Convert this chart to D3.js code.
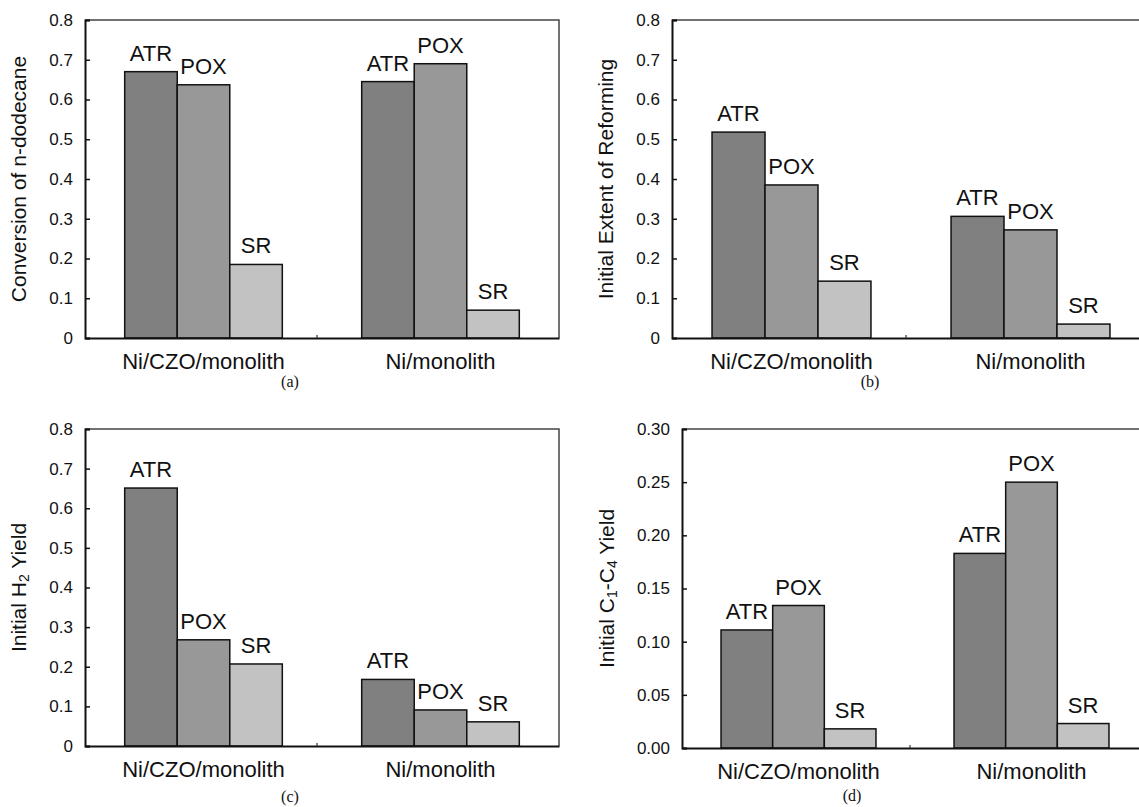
<!DOCTYPE html>
<html>
<head>
<meta charset="utf-8">
<script src="https://cdn.jsdelivr.net/npm/d3@7"></script>
<style>
  body { margin: 0; background: #fff; }
  svg { display: block; }
  text { font-family: "Liberation Sans", Arial, sans-serif; fill: #111; }
  .cap { font-family: "Liberation Serif", "Times New Roman", serif; }
</style>
</head>
<body>
<svg width="1139" height="807"></svg>
<script>
// categories and series
const groups = ["Ni/CZO/monolith", "Ni/monolith"];
const modes = ["ATR", "POX", "SR"];
const modeColors = ["#808080", "#989898", "#c2c2c2"];

// values, [group][mode]
const conversion = [[0.670, 0.637, 0.185], [0.645, 0.690, 0.070]];
const reforming = [[0.518, 0.385, 0.143], [0.306, 0.272, 0.035]];
const h2Yield = [[0.651, 0.268, 0.207], [0.168, 0.091, 0.061]];
const c1c4Yield = [[0.111, 0.134, 0.018], [0.183, 0.250, 0.023]];

// tick labels
const ticks08 = [0, 0.1, 0.2, 0.3, 0.4, 0.5, 0.6, 0.7, 0.8];
const ticks03 = [0, 0.05, 0.10, 0.15, 0.20, 0.25, 0.30];

const svg = d3.select("svg");

function drawPanel(cfg) {
  const { values, left, right, top, bottom, yMax, ticks, fmt, title, caption } = cfg;

  const x0 = d3.scaleBand()
    .domain(groups)
    .range([left, right])
    .paddingInner(0.335)
    .paddingOuter(0.1675);
  const x1 = d3.scaleBand()
    .domain(modes)
    .range([0, x0.bandwidth()]);
  const y = d3.scaleLinear().domain([0, yMax]).range([bottom, top]);

  const g = svg.append("g");

  // frame top / right
  g.append("path")
    .attr("d", `M${left},${top}H${right}V${bottom}`)
    .attr("fill", "none")
    .attr("stroke", "#444")
    .attr("stroke-width", 1.5);

  // bars
  const grp = g.selectAll(".grp")
    .data(groups)
    .enter()
    .append("g")
    .attr("transform", d => `translate(${x0(d)},0)`);

  grp.selectAll("rect")
    .data((d, i) => modes.map((m, j) => ({ mode: m, j, v: values[i][j] })))
    .enter()
    .append("rect")
    .attr("x", d => x1(d.mode))
    .attr("y", d => y(d.v))
    .attr("width", x1.bandwidth())
    .attr("height", d => y(0) - y(d.v))
    .attr("fill", d => modeColors[d.j])
    .attr("stroke", "#111")
    .attr("stroke-width", 1.5);

  grp.selectAll(".lbl")
    .data((d, i) => modes.map((m, j) => ({ mode: m, v: values[i][j] })))
    .enter()
    .append("text")
    .attr("x", d => x1(d.mode) + x1.bandwidth() / 2)
    .attr("y", d => y(d.v) - 11)
    .attr("text-anchor", "middle")
    .attr("font-size", 22)
    .text(d => d.mode);

  // y axis
  const yAxis = d3.axisLeft(y)
    .tickValues(ticks)
    .tickSize(-5)
    .tickPadding(12)
    .tickFormat(fmt);
  const ya = g.append("g")
    .attr("transform", `translate(${left},0)`)
    .call(yAxis);
  ya.select(".domain").attr("stroke", "#111").attr("stroke-width", 2);
  ya.selectAll(".tick line").attr("stroke", "#111").attr("stroke-width", 1.5);
  ya.selectAll(".tick text")
    .attr("font-size", 17)
    .attr("font-family", "Liberation Sans, Arial, sans-serif")
    .attr("fill", "#222");

  // x axis
  const xAxis = d3.axisBottom(x0).tickSize(0).tickPadding(15);
  const xa = g.append("g")
    .attr("transform", `translate(0,${bottom})`)
    .call(xAxis);
  xa.select(".domain").attr("stroke", "#111").attr("stroke-width", 2);
  xa.selectAll(".tick text")
    .attr("font-size", 22)
    .attr("font-family", "Liberation Sans, Arial, sans-serif")
    .attr("fill", "#111");

  // small divider tick between groups
  g.append("line")
    .attr("x1", (left + right) / 2 - 5)
    .attr("x2", (left + right) / 2 - 5)
    .attr("y1", bottom)
    .attr("y2", bottom - 3)
    .attr("stroke", "#333")
    .attr("stroke-width", 1.2);

  // y title
  const t = g.append("text")
    .attr("transform", `translate(${title.x},${(top + bottom) / 2}) rotate(-90)`)
    .attr("text-anchor", "middle")
    .attr("dy", "0.35em")
    .attr("font-size", 21);
  title.parts.forEach(p => {
    const s = t.append("tspan").text(p.text);
    if (p.sub) s.attr("font-size", 14).attr("baseline-shift", "-3");
  });

  // caption
  g.append("text")
    .attr("class", "cap")
    .attr("x", caption.x)
    .attr("y", caption.y)
    .attr("text-anchor", "middle")
    .attr("font-size", 16)
    .text(caption.text);
}

const f1 = d => d === 0 ? "0" : d3.format(".1f")(d);
const f2 = d3.format(".2f");

drawPanel({
  values: conversion, left: 85, right: 559, top: 20, bottom: 338,
  yMax: 0.8, ticks: ticks08, fmt: f1,
  title: { x: 19, parts: [{ text: "Conversion of n-dodecane" }] },
  caption: { x: 290, y: 387, text: "(a)" }
});

drawPanel({
  values: reforming, left: 672, right: 1150, top: 20, bottom: 338,
  yMax: 0.8, ticks: ticks08, fmt: f1,
  title: { x: 606, parts: [{ text: "Initial Extent of Reforming" }] },
  caption: { x: 870, y: 387, text: "(b)" }
});

drawPanel({
  values: h2Yield, left: 85, right: 559, top: 429, bottom: 746,
  yMax: 0.8, ticks: ticks08, fmt: f1,
  title: { x: 19, parts: [{ text: "Initial H" }, { text: "2", sub: true }, { text: " Yield" }] },
  caption: { x: 290, y: 802, text: "(c)" }
});

drawPanel({
  values: c1c4Yield, left: 682, right: 1148, top: 429, bottom: 748,
  yMax: 0.30, ticks: ticks03, fmt: f2,
  title: { x: 607, parts: [{ text: "Initial C" }, { text: "1", sub: true }, { text: "-C" }, { text: "4", sub: true }, { text: " Yield" }] },
  caption: { x: 852, y: 801, text: "(d)" }
});
</script>
</body>
</html>
